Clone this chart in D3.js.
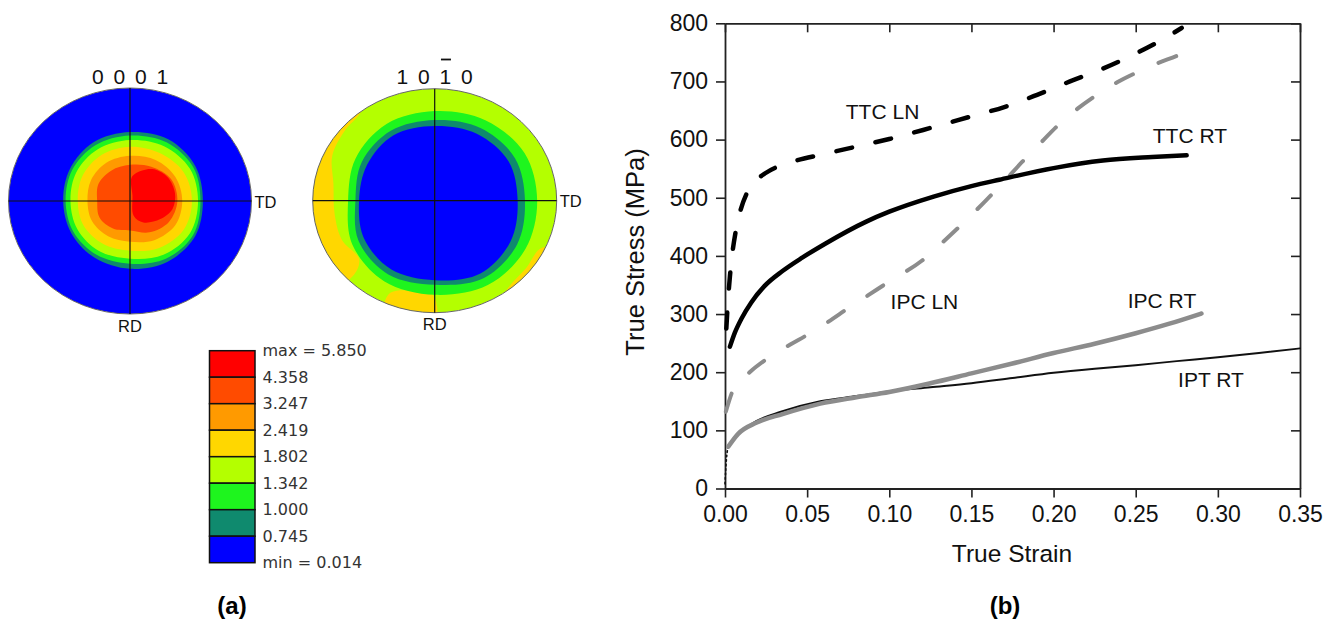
<!DOCTYPE html>
<html>
<head>
<meta charset="utf-8">
<script src="https://cdn.jsdelivr.net/npm/d3@7"></script>
<style>
	body { margin: 0; background: #fff; }
	svg { display: block; font-family: "Liberation Sans", Arial, sans-serif; }
</style>
</head>
<body>
<svg id="viz"></svg>
<script>

// ---- (a) texture data ----

// legend levels, top to bottom, and the band colours between them
var levelLabels = ["max = 5.850", "4.358", "3.247", "2.419", "1.802", "1.342", "1.000", "0.745", "min = 0.014"];
var bandColors = ["#ff0000", "#ff4b00", "#ff9a00", "#ffd700", "#b4ff00", "#1ef51e", "#0f8a6e", "#0000ff"];

// contour outlines, radius as fraction of the pole figure, at 0,30,...,330 deg (clockwise from TD)
var basalRings = [
	{band: 6, r: [0.60, 0.62, 0.62, 0.60, 0.58, 0.56, 0.55, 0.57, 0.60, 0.61, 0.63, 0.62]},
	{band: 5, r: [0.58, 0.60, 0.59, 0.555, 0.55, 0.54, 0.53, 0.55, 0.57, 0.58, 0.60, 0.60]},
	{band: 4, r: [0.56, 0.57, 0.55, 0.51, 0.51, 0.50, 0.49, 0.51, 0.53, 0.54, 0.56, 0.57]},
	{band: 3, r: [0.51, 0.51, 0.48, 0.44, 0.44, 0.44, 0.43, 0.45, 0.47, 0.48, 0.49, 0.51]},
	{band: 2, r: [0.43, 0.43, 0.40, 0.36, 0.36, 0.36, 0.35, 0.37, 0.39, 0.40, 0.42, 0.43]},
	{band: 1, r: [0.39, 0.37, 0.32, 0.26, 0.28, 0.29, 0.27, 0.30, 0.31, 0.32, 0.35, 0.39]}
];
// the max peak of the basal figure (x, y fractions)
var basalPeak = [[0.014, -0.21], [0.10, -0.27], [0.20, -0.28], [0.31, -0.21], [0.37, -0.07],
	[0.35, 0.07], [0.25, 0.16], [0.11, 0.19], [0.03, 0.13], [0.02, -0.05]];

var prismRings = [
	{band: 5, r: [0.84, 0.86, 0.87, 0.84, 0.83, 0.78, 0.71, 0.75, 0.79, 0.80, 0.83, 0.85]},
	{band: 6, r: [0.74, 0.78, 0.80, 0.75, 0.76, 0.72, 0.65, 0.69, 0.72, 0.72, 0.75, 0.76]},
	{band: 7, r: [0.68, 0.72, 0.75, 0.71, 0.71, 0.67, 0.62, 0.64, 0.675, 0.667, 0.69, 0.70]}
];
// yellow (1.802 - 2.419) patches near the rim of the prism figure
var prismPatches = [
	[[-0.55, -1.05], [-1.1, -0.3], [-1.1, 0.3], [-0.85, 0.78], [-0.66, 0.66], [-0.62, 0.52], [-0.76, 0.35],
		[-0.82, 0.12], [-0.83, -0.15], [-0.84, -0.40], [-0.74, -0.62], [-0.60, -0.80]],
	[[-0.45, 1.1], [-0.42, 0.93], [-0.36, 0.82], [-0.20, 0.80], [-0.02, 0.83], [0.0, 1.1]],
	[[0.52, 0.95], [0.60, 0.78], [0.75, 0.60], [0.88, 0.42], [1.08, 0.5], [0.85, 0.9]]
];

// ---- (b) stress-strain data: [true strain, true stress MPa] ----
var strainTicks = [0, 0.05, 0.10, 0.15, 0.20, 0.25, 0.30, 0.35];
var stressTicks = [0, 100, 200, 300, 400, 500, 600, 700, 800];

var ttcLN = [[0.0008, 275], [0.0018, 322], [0.003, 365], [0.0045, 405], [0.0065, 442], [0.0095, 479],
	[0.013, 506], [0.018, 527], [0.025, 543], [0.04, 561], [0.06, 575], [0.08, 588], [0.10, 601],
	[0.125, 620], [0.15, 640], [0.17, 656], [0.19, 677], [0.21, 700], [0.23, 722], [0.25, 748],
	[0.265, 770], [0.278, 792]];
var ttcRT = [[0.003, 244], [0.006, 268], [0.01, 292], [0.016, 320], [0.024, 348], [0.035, 374],
	[0.047, 397], [0.061, 421], [0.086, 459], [0.10, 476], [0.127, 502], [0.15, 520], [0.167, 531],
	[0.20, 551], [0.23, 564], [0.26, 570], [0.281, 573]];
var ipcLN = [[0.0005, 132], [0.005, 170], [0.015, 200], [0.026, 224], [0.04, 248], [0.05, 264],
	[0.063, 287], [0.075, 310], [0.087, 332], [0.10, 356], [0.12, 392], [0.135, 430], [0.147, 462],
	[0.158, 493], [0.169, 525], [0.181, 562], [0.192, 594], [0.204, 628], [0.215, 654], [0.228, 680],
	[0.239, 699], [0.251, 716], [0.263, 731], [0.276, 745], [0.287, 759]];
var ipcRT = [[0.002, 72], [0.008, 94], [0.019, 113], [0.035, 128], [0.058, 146], [0.08, 157], [0.10, 166],
	[0.125, 181], [0.15, 198], [0.175, 215], [0.20, 233], [0.225, 249], [0.25, 267], [0.27, 283], [0.29, 301]];
var iptRT = [[0.002, 72], [0.0067, 89], [0.012, 103], [0.019, 116], [0.034, 132], [0.058, 150], [0.08, 159],
	[0.10, 167], [0.125, 174], [0.15, 181], [0.175, 190], [0.20, 199], [0.225, 206], [0.25, 212],
	[0.275, 219], [0.30, 225.6], [0.325, 233], [0.35, 241]];
var iptElastic = [[0.0, 8], [0.0004, 30], [0.0008, 48], [0.0013, 62], [0.002, 72]];


// set up the svg
var w = 1336;
var h = 622;
var viz = d3.select("#viz").attr("width", w).attr("height", h);


// ---------- (a) pole figures ----------
function drawPole(id, cx, cy, rx, ry, bgBand, rings, patches, peak, digits, barIndex) {
	var px = d3.scaleLinear().domain([-1, 1]).range([cx - rx, cx + rx]);
	var py = d3.scaleLinear().domain([-1, 1]).range([cy - ry, cy + ry]);
	var shape = d3.line()
		.x(function(d) { return px(d[0]); })
		.y(function(d) { return py(d[1]); })
		.curve(d3.curveCatmullRomClosed.alpha(0.5));

	viz.append("clipPath").attr("id", id)
		.append("ellipse").attr("cx", cx).attr("cy", cy).attr("rx", rx).attr("ry", ry);

	var g = viz.append("g").attr("clip-path", "url(#" + id + ")");
	g.append("ellipse").attr("cx", cx).attr("cy", cy).attr("rx", rx).attr("ry", ry)
		.attr("fill", bandColors[bgBand]);

	g.selectAll("path.patch").data(patches).enter().append("path")
		.attr("class", "patch").attr("d", shape).attr("fill", bandColors[3]);

	g.selectAll("path.ring").data(rings).enter().append("path")
		.attr("class", "ring")
		.attr("d", function(d) {
			return shape(d.r.map(function(v, i) {
				var a = i * Math.PI / 6;
				return [v * Math.cos(a), v * Math.sin(a)];
			}));
		})
		.attr("fill", function(d) { return bandColors[d.band]; });

	if (peak) {
		g.append("path").attr("d", shape(peak)).attr("fill", bandColors[0]);
	}

	// outline and cross
	viz.append("ellipse").attr("cx", cx).attr("cy", cy).attr("rx", rx).attr("ry", ry)
		.attr("fill", "none").attr("stroke", "#666").attr("stroke-width", 1);
	viz.append("line").attr("x1", px(-1)).attr("x2", px(1)).attr("y1", cy).attr("y2", cy)
		.attr("stroke", "#111").attr("stroke-width", 1.2);
	viz.append("line").attr("x1", cx).attr("x2", cx).attr("y1", py(-1)).attr("y2", py(1))
		.attr("stroke", "#111").attr("stroke-width", 1.2);

	// labels
	viz.append("text").text("TD").attr("x", px(1) + 3).attr("y", cy + 6.5)
		.attr("font-size", 16.5).attr("fill", "#111");
	viz.append("text").text("RD").attr("x", cx).attr("y", py(1) + 17.5)
		.attr("text-anchor", "middle").attr("font-size", 16.5).attr("fill", "#111");

	var step = 21.5;
	viz.selectAll("text.idx-" + id).data(digits).enter().append("text")
		.attr("class", "idx-" + id)
		.text(function(d) { return d; })
		.attr("x", function(d, i) { return cx + (i - 1.5) * step; })
		.attr("y", 83.5)
		.attr("text-anchor", "middle").attr("font-size", 21).attr("fill", "#111");
	if (barIndex != null) {
		var bx = cx + (barIndex - 1.5) * step;
		viz.append("line").attr("x1", bx - 4.5).attr("x2", bx + 5.5).attr("y1", 59.5).attr("y2", 59.5)
			.attr("stroke", "#111").attr("stroke-width", 1.8);
	}
}

drawPole("pf1", 130, 201, 121.5, 113, 7, basalRings, [], basalPeak, ["0", "0", "0", "1"], null);
drawPole("pf2", 434.7, 200.7, 122, 112, 4, prismRings, prismPatches, null, ["1", "0", "1", "0"], 2);


// the legend
var legY = d3.scaleLinear().domain([0, 8]).range([350.7, 562.7]);
viz.selectAll("rect.leg").data(bandColors).enter().append("rect")
	.attr("class", "leg")
	.attr("x", 209.5)
	.attr("y", function(d, i) { return legY(i); })
	.attr("width", 45.5)
	.attr("height", legY(1) - legY(0))
	.attr("fill", function(d) { return d; })
	.attr("stroke", "#111").attr("stroke-width", 1.5);

viz.selectAll("text.leg").data(levelLabels).enter().append("text")
	.attr("class", "leg")
	.text(function(d) { return d; })
	.attr("x", 262.5)
	.attr("y", function(d, i) { return legY(i); })
	.attr("dy", "0.36em")
	.attr("font-family", "'DejaVu Sans', sans-serif")
	.attr("font-size", 16).attr("fill", "#333");


// ---------- (b) stress strain ----------
var x = d3.scaleLinear().domain([0, 0.35]).range([725, 1300]);
var y = d3.scaleLinear().domain([0, 800]).range([488.5, 23.3]);

function styleAxis(g) {
	g.selectAll(".domain").attr("stroke", "#222").attr("stroke-width", 1.8);
	g.selectAll(".tick line").attr("stroke", "#222").attr("stroke-width", 1.6);
	g.selectAll("text").attr("font-family", "'Liberation Sans', Arial, sans-serif")
		.attr("font-size", 23).attr("fill", "#111");
}

viz.append("g").attr("transform", "translate(0," + y(0) + ")")
	.call(d3.axisBottom(x).tickValues(strainTicks).tickFormat(d3.format(".2f"))
		.tickSizeInner(9).tickSizeOuter(0).tickPadding(8))
	.call(styleAxis);
viz.append("g").attr("transform", "translate(" + x(0) + ",0)")
	.call(d3.axisLeft(y).tickValues(stressTicks).tickSizeInner(9).tickSizeOuter(0).tickPadding(8))
	.call(styleAxis);
viz.append("g").attr("transform", "translate(0," + y(800) + ")")
	.call(d3.axisTop(x).tickValues(strainTicks).tickFormat("").tickSizeInner(-9).tickSizeOuter(0))
	.call(styleAxis);
viz.append("g").attr("transform", "translate(" + x(0.35) + ",0)")
	.call(d3.axisRight(y).tickValues(stressTicks).tickFormat("").tickSizeInner(-9).tickSizeOuter(0))
	.call(styleAxis);

// axis titles
viz.append("text").text("True Strain")
	.attr("x", 1012).attr("y", 562)
	.attr("text-anchor", "middle").attr("font-size", 24.5).attr("fill", "#111");
viz.append("text").text("True Stress (MPa)")
	.attr("transform", "translate(644,252) rotate(-90)")
	.attr("text-anchor", "middle").attr("font-size", 25.5).attr("fill", "#111");


// draw the curves
var curve = d3.line()
	.x(function(d) { return x(d[0]); })
	.y(function(d) { return y(d[1]); })
	.curve(d3.curveMonotoneX);

var series = [
	{data: iptElastic, color: "#111", width: 1.6, dash: "1.5,3", cap: "round"},
	{data: iptRT, color: "#111", width: 1.9, dash: null, cap: "round"},
	{data: ipcRT, color: "#8c8c8c", width: 4.5, dash: null, cap: "round"},
	{data: ipcLN, color: "#8c8c8c", width: 4, dash: "19,28", cap: "round"},
	{data: ttcRT, color: "#000", width: 4.5, dash: null, cap: "round"},
	{data: ttcLN, color: "#000", width: 4.5, dash: "16,24", cap: "round"}
];

viz.selectAll("path.curve").data(series).enter().append("path")
	.attr("class", "curve")
	.attr("d", function(d) { return curve(d.data); })
	.attr("fill", "none")
	.attr("stroke", function(d) { return d.color; })
	.attr("stroke-width", function(d) { return d.width; })
	.attr("stroke-dasharray", function(d) { return d.dash; })
	.attr("stroke-linecap", function(d) { return d.cap; });

// curve names
var curveNames = [
	{name: "TTC LN", at: [0.0959, 635]},
	{name: "TTC RT", at: [0.283, 595]},
	{name: "IPC LN", at: [0.1214, 308]},
	{name: "IPC RT", at: [0.266, 311]},
	{name: "IPT RT", at: [0.2958, 174]}
];
viz.selectAll("text.name").data(curveNames).enter().append("text")
	.attr("class", "name")
	.text(function(d) { return d.name; })
	.attr("x", function(d) { return x(d.at[0]); })
	.attr("y", function(d) { return y(d.at[1]); })
	.attr("text-anchor", "middle").attr("font-size", 21).attr("fill", "#111");


// panel letters
viz.selectAll("text.panel").data(["(a)", "(b)"]).enter().append("text")
	.attr("class", "panel")
	.text(function(d) { return d; })
	.attr("x", function(d, i) { return i ? 1005 : 232; })
	.attr("y", 614)
	.attr("text-anchor", "middle").attr("font-size", 24).attr("font-weight", "bold").attr("fill", "#000");

</script>
</body>
</html>
